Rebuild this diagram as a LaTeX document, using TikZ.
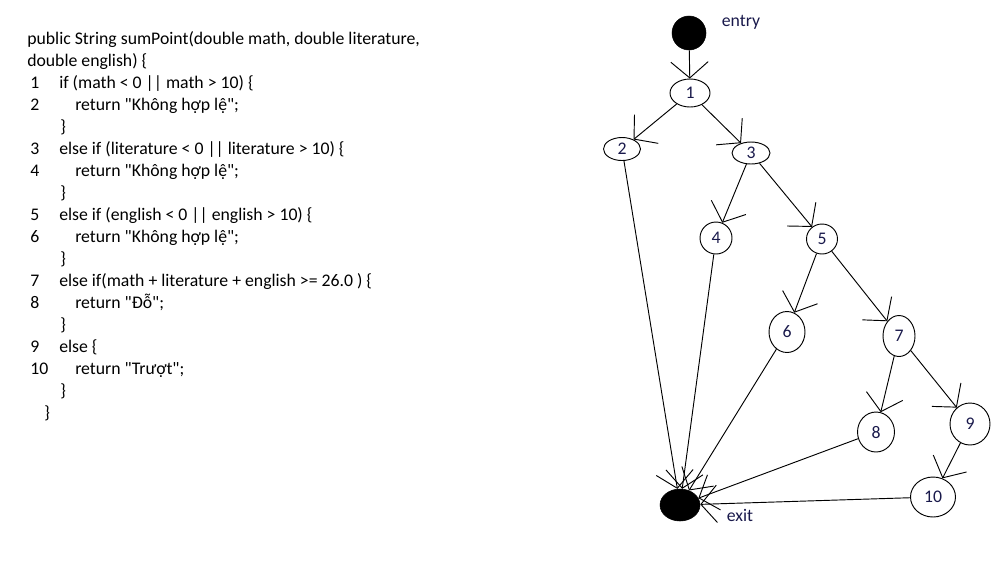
\documentclass[tikz,border=0pt]{standalone}
\usepackage{fontspec}
\setmainfont{Carlito}[Ligatures=TeXOff]
\usetikzlibrary{arrows.meta, shapes.geometric, positioning}
\definecolor{labelblue}{RGB}{25,25,75}
\tikzset{%
  vert/.style={draw, ellipse, inner sep=0mm, line width=0.7pt, text=labelblue, font=\fontsize{13.3pt}{15pt}\selectfont},
  term/.style={draw, fill=black, ellipse, inner sep=0mm},
  tag/.style={inner sep=0pt, text=labelblue, font=\fontsize{13.3pt}{15pt}\selectfont},
  flow/.style={line width=0.7pt, -{Straight Barb[length=12pt,width=28pt,line width=0.7pt]}},
  code/.style={anchor=base west, inner sep=0pt, font=\fontsize{13.3pt}{15pt}\selectfont}
}

\begin{document}
\begin{tikzpicture}[x=0.75pt, y=-0.75pt]
  \useasboundingbox (0,0) rectangle (999,576);

  % source code
  \node[code] (c0) at (27,44) {public String sumPoint(double math, double literature,};
  \node[code] (c1) at (27,66) {double english) \{};
  \node[code] (l1) at (30,88) {1};
  \node[code] (s1) at (59,88) {if (math < 0 || math > 10) \{};
  \node[code] (l2) at (30,110) {2};
  \node[code] (s2) at (75,110) {return "Không hợp lệ";};
  \node[code] (b1) at (60,132) {\}};
  \node[code] (l3) at (30,154) {3};
  \node[code] (s3) at (59,154) {else if (literature < 0 || literature > 10) \{};
  \node[code] (l4) at (30,176) {4};
  \node[code] (s4) at (75,176) {return "Không hợp lệ";};
  \node[code] (b2) at (60,198) {\}};
  \node[code] (l5) at (30,220) {5};
  \node[code] (s5) at (59,220) {else if (english < 0 || english > 10) \{};
  \node[code] (l6) at (30,242) {6};
  \node[code] (s6) at (75,242) {return "Không hợp lệ";};
  \node[code] (b3) at (60,264) {\}};
  \node[code] (l7) at (30,286) {7};
  \node[code] (s7) at (59,286) {else if(math + literature + english >= 26.0 ) \{};
  \node[code] (l8) at (30,308) {8};
  \node[code] (s8) at (75,308) {return "Đỗ";};
  \node[code] (b4) at (60,330) {\}};
  \node[code] (l9) at (30,352) {9};
  \node[code] (s9) at (59,352) {else \{};
  \node[code] (l10) at (30,374) {10};
  \node[code] (s10) at (75,374) {return "Trượt";};
  \node[code] (b5) at (60,396) {\}};
  \node[code] (b6) at (44,418) {\}};

  % flow graph
  \node[term, minimum width=25.5pt, minimum height=25.5pt] (entry) at (689,33) {};
  \node[tag] (entrylbl) at (741,22) {entry};
  \node[vert, minimum width=30pt, minimum height=21pt] (n1) at (690,93) {1};
  \node[vert, minimum width=27.75pt, minimum height=17.25pt] (n2) at (622,149) {2};
  \node[vert, minimum width=28.5pt, minimum height=16.5pt] (n3) at (751,153) {3};
  \node[vert, minimum width=24pt, minimum height=24pt] (n4) at (716,238) {4};
  \node[vert, minimum width=23.25pt, minimum height=22.5pt] (n5) at (822,239) {5};
  \node[vert, minimum width=27pt, minimum height=30.75pt] (n6) at (787,332) {6};
  \node[vert, minimum width=24pt, minimum height=30.75pt] (n7) at (899,336) {7};
  \node[vert, minimum width=27.75pt, minimum height=30pt] (n8) at (876,432) {8};
  \node[vert, minimum width=30pt, minimum height=31.5pt] (n9) at (970,424) {9};
  \node[vert, minimum width=33.75pt, minimum height=30pt] (n10) at (933,497) {10};
  \node[term, minimum width=30pt, minimum height=24pt] (exit) at (680,505) {};
  \node[tag] (exitlbl) at (740,515) {exit};

  \draw[flow] (entry) -- (n1);
  \draw[flow] (n1) -- (n2);
  \draw[flow] (n1) -- (n3);
  \draw[flow] (n3) -- (n4);
  \draw[flow] (n3) -- (n5);
  \draw[flow] (n5) -- (n6);
  \draw[flow] (n5) -- (n7);
  \draw[flow] (n7) -- (n8);
  \draw[flow] (n7) -- (n9);
  \draw[flow] (n9) -- (n10);

  \draw[flow] (n2) -- (exit);
  \draw[flow] (n4) -- (exit);
  \draw[flow] (n6) -- (exit);
  \draw[flow] (n8) -- (exit);
  \draw[flow] (n10) -- (exit);
\end{tikzpicture}
\end{document}
